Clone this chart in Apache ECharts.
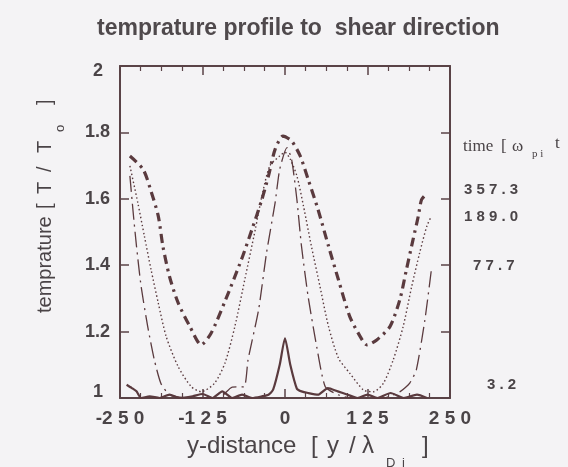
<!DOCTYPE html>
<html><head><meta charset="utf-8">
<script src="https://cdn.jsdelivr.net/npm/echarts@6/dist/echarts.min.js"></script>
<style>html,body{margin:0;padding:0;background:#f4f3f5}#c{width:568px;height:467px}</style>
</head><body><div id="c"></div>
<script>
// ---- data ----
const xTickValues = [-250, -125, 0, 125, 250];
const yTickValues = [1, 1.2, 1.4, 1.6, 1.8, 2];
const timeLabels = ['357.3', '189.0', '77.7', '3.2'];

// t = 357.3 (thick dash-dot)
const xA = [-235,-215,-203,-192,-185,-175,-162,-144,-127,-112,-91,-66,-50,-35,-25,-15,-3,10,23,35,50,66,81,98,114,124,139,159,174,184,194,202,207,215];
const yA = [1.729,1.689,1.623,1.548,1.457,1.366,1.287,1.215,1.16,1.195,1.291,1.417,1.508,1.598,1.669,1.749,1.789,1.774,1.729,1.659,1.568,1.457,1.356,1.246,1.185,1.16,1.175,1.215,1.296,1.387,1.477,1.548,1.598,1.616];
// t = 189.0 (dotted)
const xB = [-235,-223,-213,-203,-192,-180,-162,-142,-127,-107,-91,-76,-61,-45,-35,-23,-8,0,8,18,28,40,53,66,81,98,119,134,149,164,179,192,204,215,222];
const yB = [1.699,1.588,1.487,1.387,1.286,1.185,1.095,1.034,1.019,1.044,1.105,1.215,1.356,1.508,1.608,1.699,1.729,1.74,1.719,1.669,1.578,1.457,1.336,1.215,1.12,1.075,1.024,1.019,1.044,1.115,1.215,1.336,1.437,1.518,1.548];
// t = 77.7 (long dash-dot)
const xC = [-235,-230,-225,-218,-208,-198,-188,-175,-150,-125,-100,-80,-62,-56,-40,-28,-15,-8,3,10,18,25,35,48,61,80,100,125,150,175,189,199,212,222];
const yC = [1.669,1.558,1.457,1.336,1.215,1.115,1.044,1.01,1.0,1.0,1.0,1.033,1.034,1.115,1.266,1.437,1.588,1.689,1.754,1.719,1.598,1.457,1.306,1.155,1.034,1.01,1.0,1.0,1.0,1.02,1.045,1.085,1.236,1.39];
// t = 3.2 (solid)
const xD = [-240,-232,-225,-218,-205,-190,-175,-160,-140,-125,-110,-95,-80,-65,-50,-35,-25,-18,-8,0,8,18,25,35,50,65,80,95,110,125,140,160,180,200,215];
const yD = [1.04,1.03,1.02,1.0,1.005,1.0,1.01,1.0,1.005,1.012,1.0,1.02,1.0,1.01,1.0,1.005,1.01,1.025,1.10,1.18,1.10,1.028,1.02,1.015,1.01,1.03,1.02,1.01,1.0,1.01,1.0,1.015,1.0,1.01,1.0];

// ---- build ----
function pairs(xs, ys) { return xs.map((x, i) => [x, ys[i]]); }
const LINE = '#5a3a3e', FRAME = '#5a4347', TXT = '#4a4447';
const SANS = '"Liberation Sans", Arial, sans-serif';
const SERIF = '"Liberation Serif", "Times New Roman", serif';

// text pieces placed along a baseline direction from (x0,y0); 'at' = distance along, 'dy' = offset across
function pieces(x0, y0, rot, fam, segs, weight) {
  const dir = [Math.cos(rot), -Math.sin(rot)], perp = [Math.sin(rot), Math.cos(rot)];
  return segs.map(s => ({
    type: 'text', silent: true, rotation: rot,
    x: x0 + dir[0] * s.at + perp[0] * (s.dy || 0),
    y: y0 + dir[1] * s.at + perp[1] * (s.dy || 0),
    style: {text: s.t, fontSize: s.size, fontFamily: fam, fontWeight: weight || 'normal', fill: TXT, align: 'left', verticalAlign: 'middle'}
  }));
}

const spaced = v => { const s = String(v); return s[0] === '-' ? '-' + s.slice(1).split('').join(' ') : s.split('').join(' '); };

const graphics = [].concat(
  // y axis name (rotated, reads bottom to top)
  pieces(45, 313, Math.PI / 2, SANS, [
    {t: 'temprature', size: 20, at: 0},
    {t: '[', size: 20, at: 104},
    {t: 'T', size: 20, at: 119},
    {t: '/', size: 20, at: 141},
    {t: 'T', size: 20, at: 160},
    {t: 'o', size: 13, at: 181, dy: 15},
    {t: ']', size: 20, at: 208}
  ]),
  // x axis name
  pieces(187, 446, 0, SANS, [
    {t: 'y-distance', size: 24, at: 0},
    {t: '[', size: 24, at: 124},
    {t: 'y', size: 24, at: 140},
    {t: '/', size: 24, at: 162},
    {t: 'λ', size: 24, at: 175},
    {t: 'D', size: 13, at: 199, dy: 17},
    {t: 'i', size: 13, at: 215, dy: 17},
    {t: ']', size: 24, at: 235}
  ]),
  // time label (serif)
  pieces(463, 147, 0, SERIF, [
    {t: 'time', size: 17, at: 0},
    {t: '[', size: 17, at: 38},
    {t: 'ω', size: 17, at: 49},
    {t: 'p i', size: 11, at: 69, dy: 7},
    {t: 't', size: 17, at: 92, dy: -3}
  ]),
  pieces(464, 190, 0, SANS, [{t: spaced(timeLabels[0]), size: 15, at: 0}], 'bold'),
  pieces(464, 217, 0, SANS, [{t: spaced(timeLabels[1]), size: 15, at: 0}], 'bold'),
  pieces(473, 266, 0, SANS, [{t: spaced(timeLabels[2]), size: 15, at: 0}], 'bold'),
  pieces(487, 385, 0, SANS, [{t: spaced(timeLabels[3]), size: 15, at: 0}], 'bold')
);

const axisCommon = {
  type: 'value', min: -250, max: 250, interval: 125,
  axisLine: {show: true, onZero: false, lineStyle: {color: FRAME, width: 2}},
  axisTick: {show: true, inside: true, length: 9, lineStyle: {color: FRAME, width: 1.5}},
  minorTick: {show: true, splitNumber: 4, length: 5, lineStyle: {color: FRAME, width: 1.2}},
  splitLine: {show: false}, minorSplitLine: {show: false}
};
const yCommon = {
  type: 'value', min: 1, max: 2, interval: 0.2,
  axisLine: {show: true, onZero: false, lineStyle: {color: FRAME, width: 2}},
  axisTick: {show: true, inside: true, length: 9, lineStyle: {color: FRAME, width: 1.5}},
  splitLine: {show: false}
};

const chart = echarts.init(document.getElementById('c'), null, {renderer: 'canvas'});
chart.setOption({
  backgroundColor: '#f4f3f5',
  animation: false,
  title: {text: 'temprature profile to  shear direction', left: 92, top: 12,
    textStyle: {fontSize: 23, fontWeight: 'bold', fontFamily: SANS, color: '#4f494c'}},
  grid: {left: 120, right: 118, top: 66, bottom: 69},
  xAxis: [
    Object.assign({}, axisCommon, {position: 'bottom',
      axisLabel: {show: true, margin: 11, fontSize: 19, fontWeight: 'bold', fontFamily: SANS, color: TXT, formatter: v => spaced(v)}}),
    Object.assign({}, axisCommon, {position: 'top', axisLabel: {show: false}})
  ],
  yAxis: [
    Object.assign({}, yCommon, {position: 'left',
      axisLabel: {show: true, margin: 10, fontSize: 18, fontWeight: 'bold', fontFamily: SANS, color: TXT,
        formatter: v => v === 2 ? '{e|2}' : (v === 1 ? '{b|1}' : v.toFixed(1)),
        rich: {e: {fontSize: 18, fontWeight: 'bold', fontFamily: SANS, color: TXT, padding: [10, 7, 0, 0]},
               b: {fontSize: 18, fontWeight: 'bold', fontFamily: SANS, color: TXT, padding: [0, 7, 12, 0]}}}}),
    Object.assign({}, yCommon, {position: 'right', axisLabel: {show: false}})
  ],
  series: [
    {name: '357.3', type: 'line', data: pairs(xA, yA), showSymbol: false, smooth: 0.25,
      lineStyle: {color: LINE, width: 3.2, type: [9, 5, 2.5, 5]}},
    {name: '189.0', type: 'line', data: pairs(xB, yB), showSymbol: false, smooth: 0.25,
      lineStyle: {color: LINE, width: 1.4, type: [1.5, 2.5]}},
    {name: '77.7', type: 'line', data: pairs(xC, yC), showSymbol: false, smooth: 0.2,
      lineStyle: {color: LINE, width: 1.3, type: [16, 5, 2, 5]}},
    {name: '3.2', type: 'line', data: pairs(xD, yD), showSymbol: false, smooth: 0.2,
      lineStyle: {color: LINE, width: 2.2}}
  ],
  graphic: graphics
});
</script></body></html>
